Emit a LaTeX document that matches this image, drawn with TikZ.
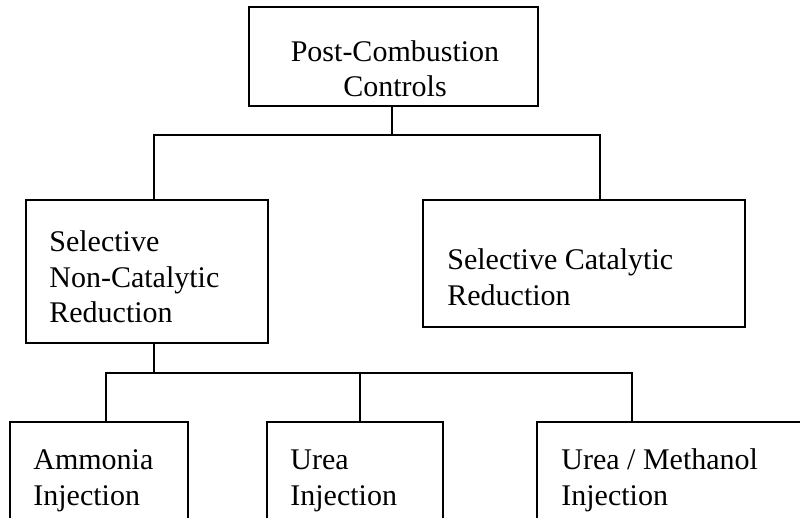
\documentclass[tikz,border=0pt]{standalone}
\usepackage{fontspec}
\setmainfont{Liberation Serif}
\begin{document}
\begin{tikzpicture}[x=0.5pt,y=-0.5pt,
  box/.style={draw=black,line width=1pt,inner sep=0pt,fill=white},
  txt/.style={inner sep=0pt,anchor=base west,font=\fontsize{15}{17.75}\selectfont},
  link/.style={draw=black,line width=1pt}]
\useasboundingbox (0,0) rectangle (800,518);
\clip (0,0) rectangle (800,518);
% boxes
\node[box,minimum width=144.5pt,minimum height=49.5pt] (top) at (393.5,56.5) {};
\node[box,minimum width=121pt,minimum height=71.5pt] (sncr) at (147,271.5) {};
\node[box,minimum width=161pt,minimum height=63.5pt] (scr) at (584,263.5) {};
\node[box,minimum width=89pt,minimum height=69pt] (amm) at (99,491) {};
\node[box,minimum width=88pt,minimum height=69pt] (urea) at (355,491) {};
\node[box,minimum width=146.5pt,minimum height=69pt] (um) at (683.5,491) {};
% texts
\node[txt,anchor=base] (t1) at (395,62) {Post-Combustion};
\node[txt,anchor=base] (t2) at (395,97) {Controls};
\node[txt] (s1) at (49,252) {Selective};
\node[txt] (s2) at (49,287.5) {Non-Catalytic};
\node[txt] (s3) at (49,323) {Reduction};
\node[txt] (c1) at (447,270) {Selective Catalytic};
\node[txt] (c2) at (447,305.5) {Reduction};
\node[txt] (a1) at (33,470) {Ammonia};
\node[txt] (a2) at (33,505.5) {Injection};
\node[txt] (u1) at (290,470) {Urea};
\node[txt] (u2) at (290,505.5) {Injection};
\node[txt] (m1) at (561,470) {Urea / Methanol};
\node[txt] (m2) at (561,505.5) {Injection};
% connectors
\coordinate (j1) at (392,135);
\coordinate (b1l) at (154,135);
\coordinate (b1r) at (600,135);
\coordinate (j2) at (154,373);
\coordinate (b2l) at (106,373);
\coordinate (b2m) at (360,373);
\coordinate (b2r) at (632,373);
\draw[link] (top.south -| j1) -- (j1);
\draw[link] (sncr.north -| b1l) -- (b1l) -- (b1r) -- (scr.north -| b1r);
\draw[link] (sncr.south -| j2) -- (j2);
\draw[link] (amm.north -| b2l) -- (b2l) -- (b2r) -- (um.north -| b2r);
\draw[link] (b2m) -- (urea.north -| b2m);
\end{tikzpicture}
\end{document}
